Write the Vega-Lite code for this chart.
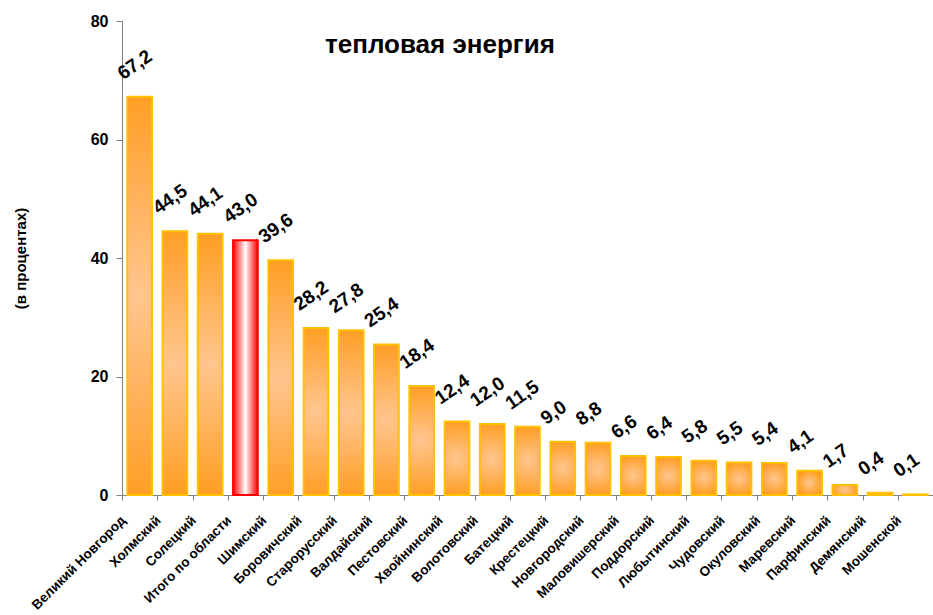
{
  "$schema": "https://vega.github.io/schema/vega-lite/v6.json",
  "width": 811,
  "height": 474,
  "autosize": "none",
  "padding": {"left": 122, "top": 21, "right": 0, "bottom": 120},
  "config": {
    "locale": {"number": {"decimal": ",", "thousands": " ", "grouping": [3], "currency": ["", ""]}},
    "view": {"stroke": null},
    "font": "Liberation Sans"
  },
  "title": {
    "text": "тепловая энергия",
    "anchor": "start",
    "frame": "group",
    "orient": "top",
    "offset": 0,
    "dx": 203,
    "dy": 66,
    "baseline": "alphabetic",
    "font": "Liberation Sans",
    "fontSize": 26,
    "fontWeight": "bold",
    "color": "#000000"
  },
  "data": {
    "values": [
      {"district": "Великий Новгород", "value": 67.2, "kind": "район"},
      {"district": "Холмский", "value": 44.5, "kind": "район"},
      {"district": "Солецкий", "value": 44.1, "kind": "район"},
      {"district": "Итого по области", "value": 43.0, "kind": "итого"},
      {"district": "Шимский", "value": 39.6, "kind": "район"},
      {"district": "Боровичский", "value": 28.2, "kind": "район"},
      {"district": "Старорусский", "value": 27.8, "kind": "район"},
      {"district": "Валдайский", "value": 25.4, "kind": "район"},
      {"district": "Пестовский", "value": 18.4, "kind": "район"},
      {"district": "Хвойнинский", "value": 12.4, "kind": "район"},
      {"district": "Волотовский", "value": 12.0, "kind": "район"},
      {"district": "Батецкий", "value": 11.5, "kind": "район"},
      {"district": "Крестецкий", "value": 9.0, "kind": "район"},
      {"district": "Новгородский", "value": 8.8, "kind": "район"},
      {"district": "Маловишерский", "value": 6.6, "kind": "район"},
      {"district": "Поддорский", "value": 6.4, "kind": "район"},
      {"district": "Любытинский", "value": 5.8, "kind": "район"},
      {"district": "Чудовский", "value": 5.5, "kind": "район"},
      {"district": "Окуловский", "value": 5.4, "kind": "район"},
      {"district": "Маревский", "value": 4.1, "kind": "район"},
      {"district": "Парфинский", "value": 1.7, "kind": "район"},
      {"district": "Демянский", "value": 0.4, "kind": "район"},
      {"district": "Мошенской", "value": 0.1, "kind": "район"}
    ]
  },
  "encoding": {
    "x": {
      "field": "district",
      "type": "nominal",
      "sort": null,
      "scale": {"paddingInner": 0.3, "paddingOuter": 0.15},
      "axis": {
        "title": null,
        "labelAngle": -45,
        "labelFont": "Liberation Sans",
        "labelFontSize": 13.5,
        "labelFontWeight": "bold",
        "labelColor": "#000000",
        "labelPadding": 13,
        "labelOffset": -4,
        "tickOffset": -17.6,
        "tickSize": 5,
        "tickColor": "#808080",
        "domainColor": "#808080"
      }
    },
    "y": {
      "field": "value",
      "type": "quantitative",
      "scale": {"domain": [0, 80]},
      "axis": {
        "values": [0, 20, 40, 60, 80],
        "grid": false,
        "title": "(в процентах)",
        "titleFont": "Liberation Sans",
        "titleFontSize": 15,
        "titleFontWeight": "bold",
        "titleColor": "#000000",
        "titlePadding": 62,
        "labelFont": "Liberation Sans",
        "labelFontSize": 16,
        "labelFontWeight": "bold",
        "labelColor": "#000000",
        "labelPadding": 8,
        "tickSize": 6,
        "tickColor": "#808080",
        "domainColor": "#808080"
      }
    }
  },
  "layer": [
    {
      "mark": {"type": "bar", "strokeWidth": 2},
      "encoding": {
        "fill": {
          "condition": {
            "test": "datum.kind === 'итого'",
            "value": {
              "gradient": "linear",
              "x1": 0, "y1": 0, "x2": 1, "y2": 0,
              "stops": [
                {"offset": 0, "color": "#FF0000"},
                {"offset": 0.5, "color": "#FFFFFF"},
                {"offset": 1, "color": "#FF0000"}
              ]
            }
          },
          "value": {
            "gradient": "radial",
            "x1": 0.5, "y1": 0.5, "r1": 0,
            "x2": 0.5, "y2": 0.5, "r2": 0.6,
            "stops": [
              {"offset": 0, "color": "#FFC690"},
              {"offset": 1, "color": "#FF960F"}
            ]
          }
        },
        "stroke": {
          "condition": {"test": "datum.kind === 'итого'", "value": "#FF0000"},
          "value": "#FFC000"
        }
      }
    },
    {
      "mark": {
        "type": "text",
        "angle": -35,
        "align": "left",
        "baseline": "alphabetic",
        "dx": -4,
        "dy": -23,
        "font": "Liberation Sans",
        "fontSize": 19,
        "fontWeight": "bold",
        "color": "#000000"
      },
      "encoding": {
        "text": {"field": "value", "type": "quantitative", "format": ".1f"}
      }
    }
  ]
}
